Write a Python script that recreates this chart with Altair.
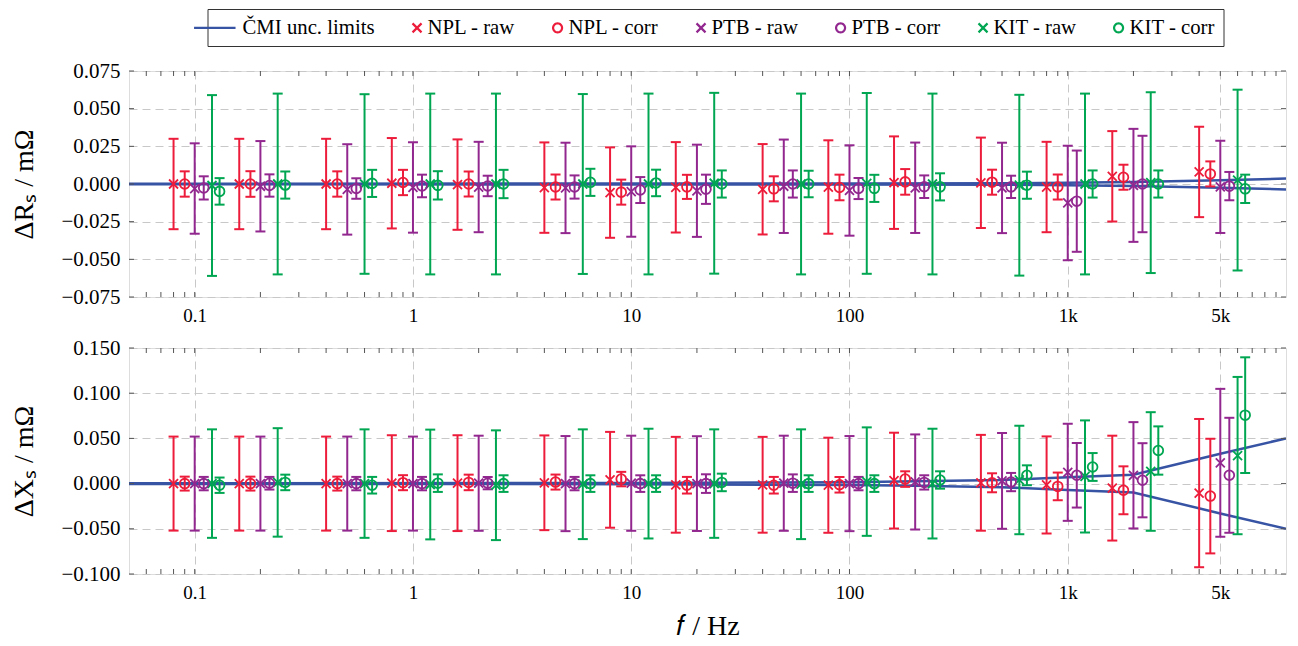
import altair as alt
import pandas as pd
import numpy as np

# ---------------- data ----------------
GROUPS = [0.1, 0.2, 0.5, 1, 2, 5, 10, 20, 50, 100, 200, 500, 1000, 2000, 5000]
SERIES = ["NPL - raw", "NPL - corr", "PTB - raw", "PTB - corr", "KIT - raw", "KIT - corr"]
OFFSETS = [0.8, 0.9, 1.0, 1.1, 1.2, 1.3]   # frequency shift factors of each series inside a group
CMI_LABEL = "ČMI unc. limits"

R_VAL = {
    "NPL - raw":  [0, 0, 0, 0.0005, -0.0004, -0.0024, -0.0057, -0.0022, -0.0035, -0.002, 0.0009, 0.0008, -0.002, 0.0051, 0.008],
    "NPL - corr": [0, 0, 0, 0.001, 0, -0.002, -0.0054, -0.0019, -0.0032, -0.0023, 0.0014, 0.0012, -0.002, 0.0045, 0.0067],
    "PTB - raw":  [-0.003, -0.0015, -0.0036, -0.0023, -0.002, -0.0026, -0.005, -0.0045, -0.0015, -0.0043, -0.0025, -0.0026, -0.0126, -0.0009, -0.0019],
    "PTB - corr": [-0.0026, -0.001, -0.003, -0.0013, -0.0013, -0.002, -0.004, -0.0035, 0, -0.003, -0.0018, -0.0019, -0.0114, 0, -0.0014],
    "KIT - raw":  [-0.001, 0, 0, 0, 0, 0, 0, 0.0005, 0, 0.0004, 0, -0.0008, 0, 0.0009, 0.0026],
    "KIT - corr": [-0.0049, -0.0007, 0.0004, -0.0009, 0, 0.0011, 0.0007, 0, 0, -0.0029, -0.0019, -0.0008, 0, 0, -0.0032],
}
R_ERR = {
    "NPL - raw":  [0.030, 0.030, 0.030, 0.030, 0.030, 0.030, 0.030, 0.030, 0.030, 0.031, 0.0307, 0.030, 0.030, 0.030, 0.030],
    "NPL - corr": [0.0084, 0.0085, 0.0084, 0.0084, 0.0083, 0.0083, 0.0083, 0.008, 0.0083, 0.0085, 0.0085, 0.0083, 0.0083, 0.0083, 0.0083],
    "PTB - raw":  [0.030, 0.030, 0.030, 0.030, 0.030, 0.030, 0.030, 0.0306, 0.031, 0.030, 0.030, 0.030, 0.038, 0.0375, 0.0306],
    "PTB - corr": [0.0077, 0.0074, 0.0068, 0.0075, 0.0068, 0.0077, 0.0086, 0.0097, 0.009, 0.007, 0.0075, 0.0074, 0.0336, 0.032, 0.0094],
    "KIT - raw":  [0.060, 0.060, 0.0596, 0.060, 0.060, 0.0597, 0.060, 0.060, 0.060, 0.060, 0.060, 0.060, 0.060, 0.060, 0.060],
    "KIT - corr": [0.0088, 0.009, 0.009, 0.0094, 0.0094, 0.009, 0.0088, 0.009, 0.0088, 0.009, 0.009, 0.009, 0.009, 0.009, 0.0094],
}
X_VAL = {
    "NPL - raw":  [0, 0, 0, 0.0005, 0.0005, 0.0009, 0.0042, -0.0013, -0.0013, -0.0018, 0.0033, 0.0009, -0.0015, -0.005, -0.0105],
    "NPL - corr": [0, 0, 0, 0.001, 0.0013, 0.0017, 0.005, -0.0018, -0.0018, -0.0013, 0.005, 0.0009, -0.0031, -0.0074, -0.0138],
    "PTB - raw":  [0, 0, 0, 0, 0.0004, 0, 0.0004, 0, 0.0004, 0, 0.0018, 0.003, 0.0125, 0.0092, 0.023],
    "PTB - corr": [0, 0.0004, 0, 0, 0.0005, 0, 0, 0, 0.0005, 0, 0.0013, 0.0017, 0.0092, 0.0037, 0.0092],
    "KIT - raw":  [0, 0.0013, 0, -0.001, -0.0018, -0.0007, 0, 0, -0.0007, 0.0022, 0, 0.004, 0.0079, 0.0134, 0.031],
    "KIT - corr": [-0.0018, 0.0013, -0.0018, 0.0005, 0, 0, 0, 0.0013, 0, 0, 0.004, 0.0092, 0.0184, 0.0366, 0.0757],
}
X_ERR = {
    "NPL - raw":  [0.052, 0.052, 0.052, 0.053, 0.053, 0.0524, 0.053, 0.053, 0.053, 0.0526, 0.053, 0.053, 0.0537, 0.058, 0.082],
    "NPL - corr": [0.0077, 0.0077, 0.0077, 0.0083, 0.0086, 0.0083, 0.008, 0.0092, 0.0092, 0.0086, 0.0086, 0.0105, 0.0153, 0.0265, 0.0634],
    "PTB - raw":  [0.052, 0.052, 0.052, 0.052, 0.0526, 0.0526, 0.0526, 0.0524, 0.0526, 0.0526, 0.0526, 0.053, 0.0537, 0.0588, 0.0818],
    "PTB - corr": [0.0074, 0.007, 0.0074, 0.0074, 0.0068, 0.0074, 0.0092, 0.0103, 0.0097, 0.0074, 0.0079, 0.0101, 0.0357, 0.041, 0.0636],
    "KIT - raw":  [0.060, 0.060, 0.060, 0.0607, 0.0607, 0.0607, 0.0607, 0.060, 0.0607, 0.060, 0.0607, 0.060, 0.062, 0.0656, 0.087],
    "KIT - corr": [0.0085, 0.0086, 0.0092, 0.0097, 0.0092, 0.0092, 0.0092, 0.0097, 0.0092, 0.0092, 0.0096, 0.011, 0.0154, 0.0267, 0.064],
}
CMI_F_R = [0.05, 100, 500, 1000, 2000, 5000, 10000]
CMI_U_R = [0.0002, 0.0003, 0.0005, 0.0008, 0.0014, 0.0025, 0.0036]
CMI_F_X = [0.05, 10, 100, 200, 500, 1000, 2000, 5000, 10000]
CMI_U_X = [0.0005, 0.0006, 0.0015, 0.0025, 0.004, 0.007, 0.0098, 0.033, 0.050]

X_MAJOR = [0.1, 1, 10, 100, 1000, 5000]
X_TICKS = [m * 10.0 ** k for k in range(-2, 4) for m in range(1, 10) if 0.05 < m * 10.0 ** k < 10000]
R_TICKS = [-0.075, -0.05, -0.025, 0, 0.025, 0.05, 0.075]
XS_TICKS = [-0.1, -0.05, 0, 0.05, 0.1, 0.15]

# ---------------- styles ----------------
BLUE, RED, PURPLE, GREEN = "#3753a4", "#ec1c3a", "#92278f", "#00a651"
LEGEND_DOMAIN = [CMI_LABEL] + SERIES
COLORS = [BLUE, RED, RED, PURPLE, PURPLE, GREEN, GREEN]
FONT = "Liberation Serif, Times New Roman, Times, serif"
W, H = 1157, 226

# legend symbol glyphs (unit = 9 px); a leading move widens each entry to the left
LEG_LEFT = -3.55

def circle_path(cx, r, n=28):
    a = np.linspace(0, 2 * np.pi, n, endpoint=False)
    pts = ["%.3f,%.3f" % (cx + r * np.cos(t), r * np.sin(t)) for t in a]
    return "M%.2f,0M" % LEG_LEFT + pts[0] + "L" + "L".join(pts[1:]) + "Z"

CROSS_LEG = "M%.2f,0M0.17,-0.5L1.17,0.5M0.17,0.5L1.17,-0.5" % LEG_LEFT
LINE_LEG = "M%.2f,0L1.06,0" % LEG_LEFT
CIRC_LEG = circle_path(0.62, 0.5)
LEG_SHAPES = [LINE_LEG, CROSS_LEG, CIRC_LEG, CROSS_LEG, CIRC_LEG, CROSS_LEG, CIRC_LEG]
CROSS = "M-1,-1L1,1M-1,1L1,-1"
CAP = "M-1,0L1,0"

# ---------------- tables ----------------
rows = []
for panel, vals, errs in (("R", R_VAL, R_ERR), ("X", X_VAL, X_ERR)):
    for s, off in zip(SERIES, OFFSETS):
        for g, v, e in zip(GROUPS, vals[s], errs[s]):
            rows.append(dict(panel=panel, series=s, kind=("raw" if "raw" in s else "corr"),
                             f=g * off, val=v, lo=v - e, hi=v + e))
df = pd.DataFrame(rows)

lrows = []
for panel, fs, us in (("R", CMI_F_R, CMI_U_R), ("X", CMI_F_X, CMI_U_X)):
    for fv, u in zip(fs, us):
        lrows.append(dict(panel=panel, f=fv, y=u, branch="upper", series=CMI_LABEL))
        lrows.append(dict(panel=panel, f=fv, y=-u, branch="lower", series=CMI_LABEL))
ldf = pd.DataFrame(lrows)

legend_color_scale = alt.Scale(domain=LEGEND_DOMAIN, range=COLORS)
series_stroke_scale = alt.Scale(domain=SERIES, range=COLORS[1:])
xscale = alt.Scale(type="log", domain=[0.05, 10000], nice=False)

LEG = alt.Legend(
    orient="none", legendX=78.5, legendY=-62, direction="horizontal", columns=7,
    title=None, strokeColor="#333", padding=8, columnPadding=0, rowPadding=0,
    symbolSize=324, symbolStrokeWidth=2.2, symbolOffset=0, labelOffset=6,
    labelFont=FONT, labelFontSize=20.75, labelColor="black", labelLimit=0,
    symbolOpacity=1,
)


def make_panel(key, ydom, yticks, ytitle, xtitle, with_legend):
    d = df[df.panel == key]
    ld = ldf[ldf.panel == key]
    yscale = alt.Scale(domain=ydom, nice=False, zero=False)
    xaxis = alt.Axis(values=X_MAJOR,
                     labelExpr="datum.value >= 1000 ? format(datum.value / 1000, 'd') + 'k' : format(datum.value, '~g')",
                     grid=True, gridDash=[8, 5], gridColor="#c8c8c8", ticks=False, domain=False,
                     labelFont=FONT, labelFontSize=19, labelColor="black", labelPadding=9,
                     labelFlush=False, titleFont=FONT, titleFontSize=28, titleFontWeight="normal",
                     titleColor="black", titlePadding=10)
    yaxis = alt.Axis(values=yticks, format=".3f", grid=True, gridDash=[8, 5], gridColor="#c8c8c8",
                     ticks=False, domain=False, labelFont=FONT, labelFontSize=21, labelColor="black",
                     labelPadding=9, titleFont=FONT, titleFontSize=28, titleFontWeight="normal",
                     titleColor="black", titlePadding=22)

    def X(field):
        return alt.X(field + ":Q", scale=xscale, axis=xaxis, title=xtitle)

    def Y(field):
        return alt.Y(field + ":Q", scale=yscale, axis=yaxis, title=ytitle)

    col = alt.Stroke("series:N", scale=series_stroke_scale, legend=None)

    line = alt.Chart(ld).mark_line(clip=True, strokeWidth=2.5, color=BLUE).encode(
        x=X("f"), y=Y("y"), detail="branch:N")
    bars = alt.Chart(d).mark_rule(strokeWidth=2).encode(x=X("f"), y=Y("lo"), y2="hi:Q", stroke=col)
    cap_lo = alt.Chart(d).mark_point(shape=CAP, size=100, strokeWidth=2, filled=False, opacity=1).encode(
        x=X("f"), y=Y("lo"), stroke=col)
    cap_hi = alt.Chart(d).mark_point(shape=CAP, size=100, strokeWidth=2, filled=False, opacity=1).encode(
        x=X("f"), y=Y("hi"), stroke=col)
    raw = alt.Chart(d).transform_filter("datum.kind == 'raw'").mark_point(
        shape=CROSS, size=81, strokeWidth=1.8, filled=False, opacity=1).encode(x=X("f"), y=Y("val"), stroke=col)
    corr = alt.Chart(d).transform_filter("datum.kind == 'corr'").mark_point(
        shape="circle", size=95, strokeWidth=1.8, filled=False, opacity=1).encode(x=X("f"), y=Y("val"), stroke=col)

    xt = pd.DataFrame({"t": X_TICKS})
    yt = pd.DataFrame({"t": yticks})
    tick_style = dict(color="#555", strokeWidth=1)
    t_top = alt.Chart(xt).mark_rule(**tick_style).encode(x=X("t"), y=alt.value(0), y2=alt.value(5))
    t_bot = alt.Chart(xt).mark_rule(**tick_style).encode(x=X("t"), y=alt.value(H), y2=alt.value(H - 5))
    t_left = alt.Chart(yt).mark_rule(**tick_style).encode(y=Y("t"), x=alt.value(0), x2=alt.value(5))
    t_right = alt.Chart(yt).mark_rule(**tick_style).encode(y=Y("t"), x=alt.value(W), x2=alt.value(W - 5))

    layers = [line, bars, cap_lo, cap_hi, raw, corr, t_top, t_bot, t_left, t_right]
    if with_legend:
        leg = alt.Chart(pd.DataFrame({"series": LEGEND_DOMAIN})).transform_filter("false").mark_point(
            filled=False, opacity=1, strokeWidth=2.2).encode(
            color=alt.Color("series:N", scale=legend_color_scale, legend=LEG),
            shape=alt.Shape("series:N", scale=alt.Scale(domain=LEGEND_DOMAIN, range=LEG_SHAPES), legend=LEG))
        layers.append(leg)
    return alt.layer(*layers).properties(width=W, height=H)


top = make_panel("R", [-0.075, 0.075], R_TICKS, "ΔRₛ / mΩ", None, True)
bottom = make_panel("X", [-0.1, 0.15], XS_TICKS, "ΔXₛ / mΩ", "𝑓 / Hz", False)

chart = alt.vconcat(top, bottom, spacing=51, bounds="flush").properties(
    padding={"left": 2, "top": 0, "right": 0, "bottom": 0}
).configure_view(stroke="#444", strokeWidth=1.2).configure(background="white")

chart.save("out.html", embed_options={"renderer": "svg", "actions": False})
